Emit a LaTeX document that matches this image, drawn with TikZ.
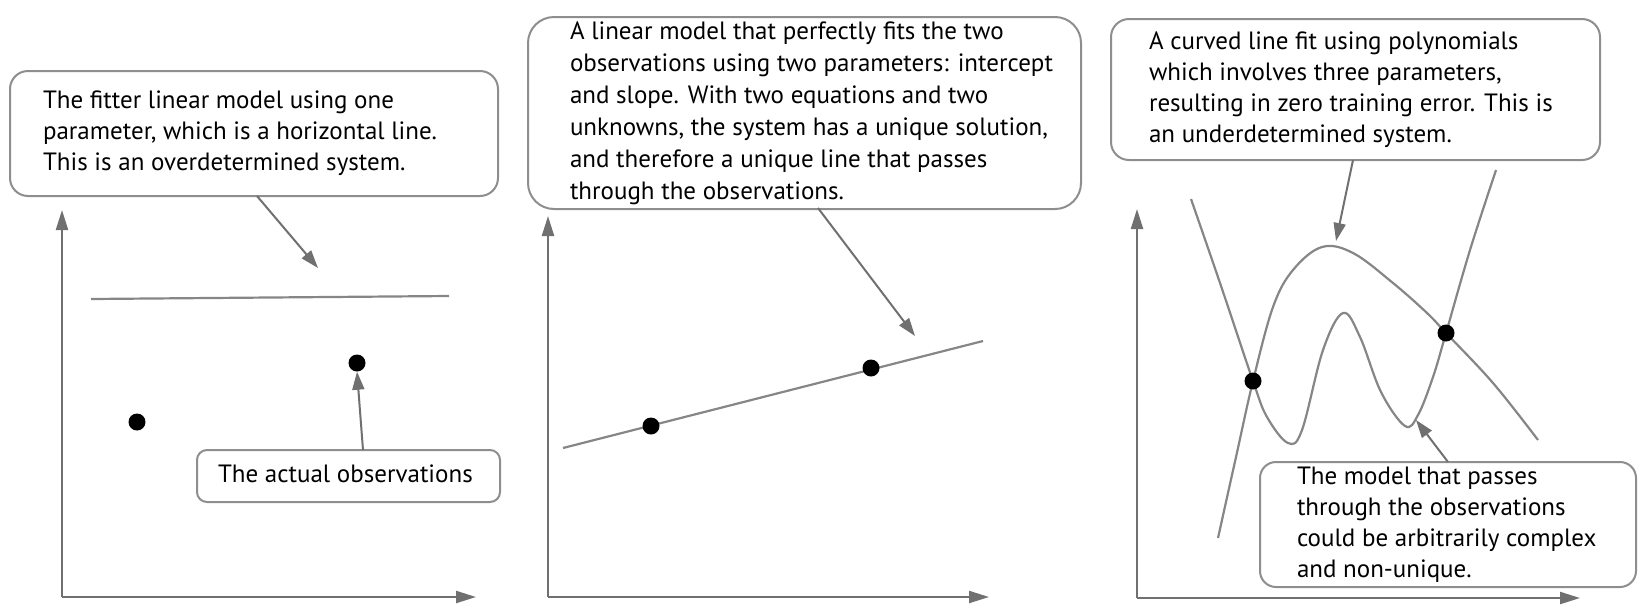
\documentclass[tikz,border=0pt]{standalone}
\usepackage{fontspec}
\setmainfont{PT Sans}
\usetikzlibrary{arrows.meta}
\definecolor{boxgray}{HTML}{8E8E8E}
\definecolor{axisgray}{HTML}{707070}
\definecolor{curvegray}{HTML}{868686}
\newcommand\boxtext[2]{\makebox[#1][l]{\begin{tabular}{@{}l@{}}#2\end{tabular}}}
\begin{document}
\begin{tikzpicture}[x=1pt,y=-1pt,
  callbox/.style={draw=boxgray, line width=2pt, rounded corners=18pt, inner ysep=0pt,
    outer sep=0pt, anchor=north west, font=\fontsize{25}{31}\selectfont, fill=white},
  axisline/.style={draw=axisgray, line width=2.2pt, -{Triangle[length=20pt,width=12pt]}},
  pointer/.style={draw=axisgray, line width=2pt, -{Triangle[length=18pt,width=12pt]}},
  fitline/.style={draw=curvegray, line width=2.2pt},
  obsdot/.style={circle, fill=black, inner sep=0pt, minimum size=17pt}]
\useasboundingbox (0,0) rectangle (1649,614);

% ---------------- Panel 1 ----------------
\coordinate (o1) at (62,597);
\coordinate (y1) at (62,210);
\coordinate (x1) at (476,597);
\draw[axisline] (o1) -- (y1);
\draw[axisline] (o1) -- (x1);
\node[callbox, minimum width=488pt, minimum height=125pt, inner xsep=33pt] (b1) at (10,71)
  {\boxtext{422pt}{The fitter linear model using one\\parameter, which is a horizontal line.\\This is an overdetermined system.}};
\coordinate (h1a) at (91,299);
\coordinate (h1b) at (449,296);
\draw[fitline] (h1a) -- (h1b);
\coordinate (p1s) at (257,196);
\coordinate (p1e) at (318,268);
\draw[pointer] (p1s) -- (p1e);
\node[obsdot] (d11) at (137,422) {};
\node[obsdot] (d12) at (357,363) {};
\node[callbox, rounded corners=10pt, minimum width=303pt, minimum height=52pt, inner xsep=21pt] (bo) at (197,450)
  {\boxtext{261pt}{The actual observations}};
\coordinate (pos) at (363,450);
\draw[pointer] (pos) -- (d12.south);

% ---------------- Panel 2 ----------------
\coordinate (o2) at (548,597);
\coordinate (y2) at (548,216);
\coordinate (x2) at (989,597);
\draw[axisline] (o2) -- (y2);
\draw[axisline] (o2) -- (x2);
\node[callbox, rounded corners=26pt, minimum width=553pt, minimum height=191pt, inner xsep=42pt,
  font=\fontsize{25}{32}\selectfont] (b2) at (528,17)
  {\boxtext{469pt}{A linear model that perfectly fits the two\\observations using two parameters: intercept\\and slope. With two equations and two\\unknowns, the system has a unique solution,\\and therefore a unique line that passes\\through the observations.}};
\coordinate (l2a) at (563,448);
\coordinate (l2b) at (983,341);
\draw[fitline] (l2a) -- (l2b);
\node[obsdot] (d21) at (651,426) {};
\node[obsdot] (d22) at (871,368) {};
\coordinate (p2s) at (818,208);
\coordinate (p2e) at (915,336);
\draw[pointer] (p2s) -- (p2e);

% ---------------- Panel 3 ----------------
\coordinate (o3) at (1137,598);
\coordinate (y3) at (1137,209);
\coordinate (x3) at (1580,598);
\draw[axisline] (o3) -- (y3);
\draw[axisline] (o3) -- (x3);
\node[callbox, minimum width=489pt, minimum height=141pt, inner xsep=38pt] (b3) at (1111,19)
  {\boxtext{413pt}{A curved line fit using polynomials\\which involves three parameters,\\resulting in zero training error. This is\\an underdetermined system.}};
% hump curve
\draw[fitline] plot[smooth, tension=0.6] coordinates {(1218,538) (1236,457) (1253,381) (1273,307) (1293,270) (1322,247) (1353,253) (1393,283) (1427,313) (1446,333) (1493,383) (1538,440)};
% wiggly curve
\draw[fitline] plot[smooth, tension=0.6] coordinates {(1191,199) (1220,283) (1253,381) (1267,417) (1288,443) (1302,430) (1323,350) (1343,313) (1360,337) (1381,392) (1405,426) (1418,415) (1433,377) (1446,333) (1470,250) (1496,170)};
\node[obsdot] (d31) at (1253,381) {};
\node[obsdot] (d32) at (1446,333) {};
\coordinate (p3s) at (1353,160);
\coordinate (p3e) at (1336,241);
\draw[pointer] (p3s) -- (p3e);
\node[callbox, rounded corners=16pt, minimum width=376pt, minimum height=125pt, inner xsep=37pt] (b4) at (1260,462)
  {\boxtext{302pt}{The model that passes\\through the observations\\could be arbitrarily complex\\and non-unique.}};
\coordinate (p4s) at (1448,462);
\coordinate (p4e) at (1416,420);
\draw[pointer] (p4s) -- (p4e);
\end{tikzpicture}
\end{document}
